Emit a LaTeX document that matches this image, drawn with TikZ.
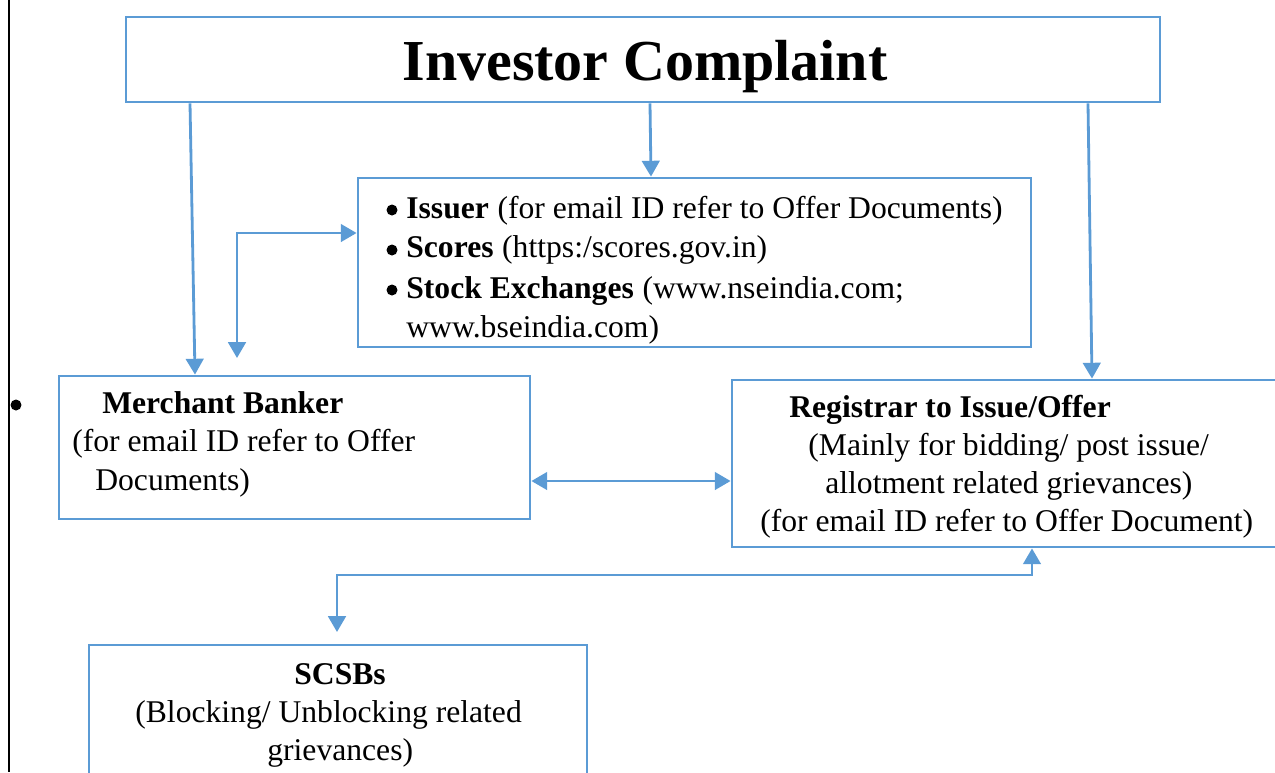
\documentclass[tikz,border=0pt]{standalone}
\usepackage{fontspec}
\setmainfont{Liberation Serif}
\usetikzlibrary{arrows.meta,fit}
\definecolor{boxblue}{RGB}{91,155,213}

\begin{document}
\begin{tikzpicture}[x=0.02cm,y=-0.02cm,
  box/.style={draw=boxblue,line width=1.6pt,inner sep=0pt},
  arr/.style={draw=boxblue,line width=1.6pt,-{Triangle[width=10pt,length=9pt]}},
  dbl/.style={draw=boxblue,line width=1.6pt,{Triangle[width=10pt,length=9pt]}-{Triangle[width=10pt,length=9pt]}},
  txt/.style={anchor=base west,inner sep=0pt,font=\fontsize{18}{22}\selectfont},
  bld/.style={txt,font=\fontsize{18}{22}\selectfont\bfseries},
  dot/.style={circle,fill=black,inner sep=0pt,minimum size=0.22cm}]
\useasboundingbox (0,0) rectangle (1275,772);
\draw[line width=1.4pt] (9,0) -- (9,772) ;

% boxes
\node[box,fit={(126,17) (1160,102)}] (ic) {} ;
\node[box,fit={(358,178) (1031,347)}] (iss) {} ;
\node[box,fit={(59,376) (530,519)}] (mb) {} ;
\node[box,fit={(732,380) (1300,547)}] (reg) {} ;
\node[box,fit={(89,645) (587,800)}] (scsb) {} ;

% texts
\node[anchor=base,inner sep=0pt,font=\fontsize{33}{40}\selectfont\bfseries] (ictxt) at (645,80) {Investor Complaint} ;

\node[dot] (b1) at (392,210) {} ;
\node[bld] (iss1) at (406,218) {Issuer} ;
\node[txt] (iss1a) at (iss1.base east) {~(for email ID refer to Offer Documents)} ;
\node[dot] (b2) at (392,250) {} ;
\node[bld] (iss2) at (406,257) {Scores} ;
\node[txt] (iss2a) at (iss2.base east) {~(https:/scores.gov.in)} ;
\node[dot] (b3) at (392,290) {} ;
\node[bld] (iss3) at (406,298) {Stock Exchanges} ;
\node[txt] (iss3a) at (iss3.base east) {~(www.nseindia.com;} ;
\node[txt] (iss4) at (406,337) {www.bseindia.com)} ;

\node[dot] (b0) at (16,405) {} ;
\node[bld] (mb1) at (102,413) {Merchant Banker} ;
\node[txt] (mb2) at (72,451) {(for email ID refer to Offer} ;
\node[txt] (mb3) at (95,490) {Documents)} ;

\node[bld] (reg1) at (789,417) {Registrar to Issue/Offer} ;
\node[txt] (reg2) at (808,455) {(Mainly for bidding/ post issue/} ;
\node[txt] (reg3) at (825,493) {allotment related grievances)} ;
\node[txt] (reg4) at (760,531) {(for email ID refer to Offer Document)} ;

\node[bld] (sc1) at (294,684) {SCSBs} ;
\node[txt] (sc2) at (135,722) {(Blocking/ Unblocking related} ;
\node[txt] (sc3) at (267,760) {grievances)} ;

% connectors
\coordinate (mbtip) at (237,358) ;
\coordinate (sctip) at (337,632) ;
\draw[arr] (ic.south -| 190,0) -- (mb.north -| 195,0) ;
\draw[arr] (ic.south -| 650,0) -- (iss.north -| 651,0) ;
\draw[arr] (ic.south -| 1088,0) -- (reg.north -| 1092,0) ;
\draw[dbl] (mbtip) |- (iss.west |- 0,233) ;
\draw[dbl] (mb.east |- 0,481) -- (reg.west |- 0,481) ;
\draw[dbl] (sctip) -- (337,575) -| (reg.south -| 1032,0) ;

\end{tikzpicture}
\end{document}
